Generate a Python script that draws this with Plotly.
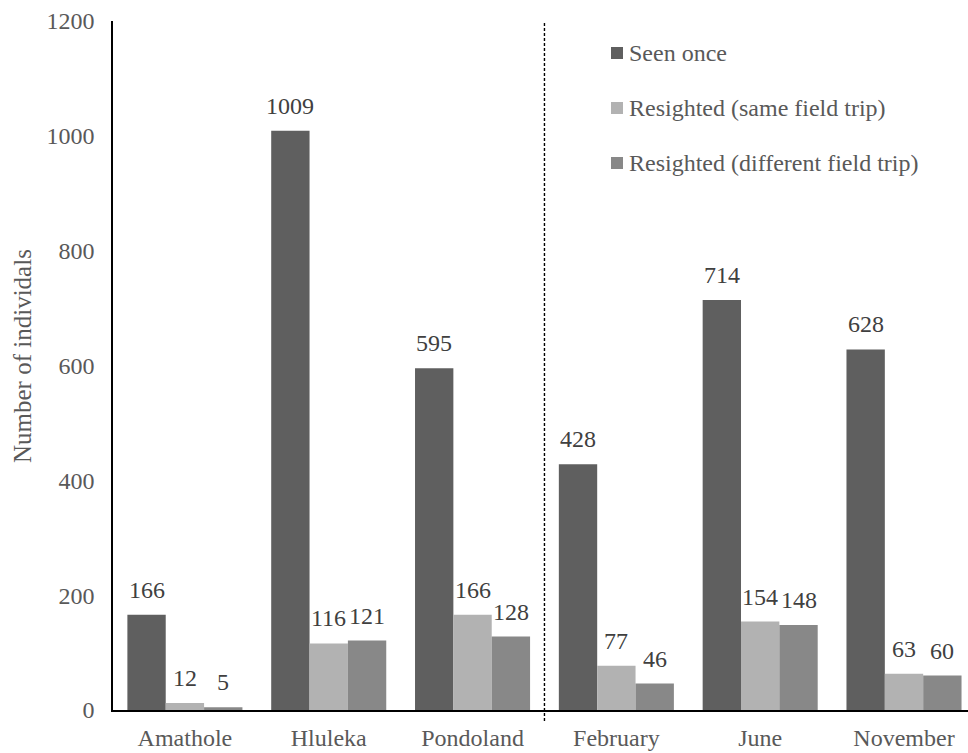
import plotly.graph_objects as go

# Sites and survey months along the x axis
categories = ["Amathole", "Hluleka", "Pondoland", "February", "June", "November"]

# Counts of individuals per sighting class
seen_once = [166, 1009, 595, 428, 714, 628]
resighted_same = [12, 116, 166, 77, 154, 63]
resighted_diff = [5, 121, 128, 46, 148, 60]

series_names = ["Seen once", "Resighted (same field trip)", "Resighted (different field trip)"]
series_values = [seen_once, resighted_same, resighted_diff]
series_colors = ["#5f5f5f", "#b2b2b2", "#888888"]

y_ticks = [0, 200, 400, 600, 800, 1000, 1200]

FONT = "Liberation Serif"
FS = 24
AXIS_GREY = "#595959"
LABEL_GREY = "#404040"

BARGAP = 0.2
n_series = len(series_values)
slot = (1 - BARGAP) / n_series

fig = go.Figure()
for name, vals, col in zip(series_names, series_values, series_colors):
    fig.add_trace(go.Bar(
        x=categories, y=vals, name=name,
        marker=dict(color=col, line=dict(width=0)),
        showlegend=False,
    ))

# Value labels above each bar
annotations = []
for j, vals in enumerate(series_values):
    off = (j - (n_series - 1) / 2) * slot
    for i, v in enumerate(vals):
        annotations.append(dict(
            x=i + off, y=v, xref="x", yref="y",
            text=str(v), showarrow=False,
            yanchor="middle", yshift=25,
            font=dict(family=FONT, size=FS, color=LABEL_GREY),
        ))

# Y axis title
annotations.append(dict(
    x=-91 / 855, y=(710 - 356) / 689, xref="paper", yref="paper",
    text="Number of individals", textangle=-90, showarrow=False,
    xanchor="center", yanchor="middle",
    font=dict(family=FONT, size=25, color=AXIS_GREY),
))

# Legend drawn as swatches plus labels
shapes = []
legend_y = [(710 - 53) / 689, (710 - 108) / 689, (710 - 163) / 689]
sw_x0 = (611 - 113) / 855
sw_x1 = (623 - 113) / 855
half = 6 / 689
for name, col, ly in zip(series_names, series_colors, legend_y):
    shapes.append(dict(type="rect", xref="paper", yref="paper",
                       x0=sw_x0, x1=sw_x1, y0=ly - half, y1=ly + half,
                       fillcolor=col, line=dict(width=0)))
    annotations.append(dict(
        x=(627 - 113) / 855, y=ly, xref="paper", yref="paper",
        text=name, showarrow=False, xanchor="left", yanchor="middle",
        font=dict(family=FONT, size=FS, color=AXIS_GREY),
    ))

# Dashed separator between sites and months
shapes.append(dict(type="line", xref="x", yref="paper",
                   x0=2.5, x1=2.5, y0=-11 / 689, y1=(710 - 22) / 689,
                   line=dict(color="black", width=1.4, dash="3px,2px")))

fig.update_layout(
    width=968, height=753,
    margin=dict(l=113, r=0, t=21, b=43, autoexpand=False),
    paper_bgcolor="white", plot_bgcolor="white",
    bargap=BARGAP, bargroupgap=0, barmode="group",
    font=dict(family=FONT, size=FS, color=AXIS_GREY),
    annotations=annotations, shapes=shapes,
    showlegend=False,
    xaxis=dict(
        type="category", range=[-0.5, 5.445],
        showline=True, linecolor="black", linewidth=1.6,
        ticks="", showgrid=False, zeroline=False,
        tickfont=dict(family=FONT, size=FS, color=AXIS_GREY),
        ticklabelstandoff=5, automargin=False,
    ),
    yaxis=dict(
        range=[0, 1200], tickvals=y_ticks,
        showline=True, linecolor="black", linewidth=1.6,
        ticks="", showgrid=False, zeroline=False,
        tickfont=dict(family=FONT, size=FS, color=AXIS_GREY),
        ticklabelstandoff=12, automargin=False,
    ),
)

fig.write_html("out.html")
